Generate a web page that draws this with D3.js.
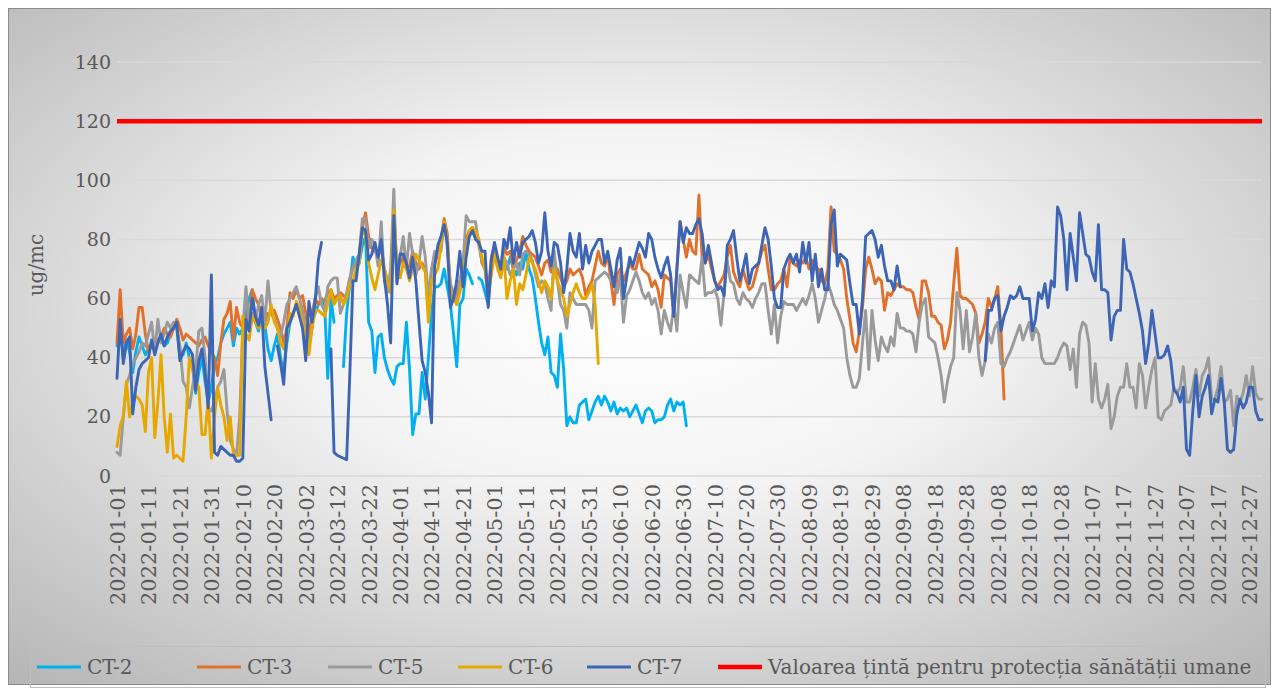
<!DOCTYPE html>
<html>
<head>
<meta charset="utf-8">
<script src="https://cdn.jsdelivr.net/npm/d3@7"></script>
<style>
  body { margin: 0; background: #ffffff; }
  svg { display: block; }
</style>
</head>
<body>
<svg id="chart" width="1279" height="693"></svg>
<script>
// Daily PM10 concentrations (ug/mc), one value per day from 2022-01-01; null = no measurement.
const startDate = "2022-01-01";
const endDate = "2022-12-31";

const ct2 = [
  44,50,40,46,42,35,42,47,44,41, 43,45,42,46,47,44,45,48,50,50,
  40,41,45,40,37,28,35,40,32,25, 30,38,40,45,48,50,52,44,50,48,
  50,55,60,63,52,49,55,51,43,39, 44,48,40,35,45,52,55,58,55,50,
  45,48,52,55,58,60,58,33,60,52, null,null,37,55,65,74,70,72,78,81,
  52,49,35,47,48,40,36,33,31,37, 38,38,52,36,14,21,21,35,26,40,
  55,64,64,65,70,64,58,48,37,58, 60,70,68,65,null,67,66,62,58,70,
  75,72,68,72,70,74,70,68,72,70, 76,70,67,60,52,45,41,47,35,34,
  30,48,36,17,20,18,18,24,25,26, 19,22,25,27,24,27,25,22,25,21,
  23,22,23,20,22,24,21,18,22,23, 22,18,19,19,20,24,26,22,25,24,
  25,17
];

const ct3 = [
  45,63,45,48,50,43,48,57,57,48, 42,44,43,46,47,50,48,47,50,53,
  50,46,48,47,46,45,44,46,47,44, 42,40,34,45,53,55,59,46,57,52,
  50,54,51,63,60,58,55,52,55,55, 56,53,50,45,50,62,60,63,60,61,
  55,47,55,60,58,60,59,62,63,60, 61,62,61,60,66,71,72,74,84,89,
  81,77,76,74,78,70,66,63,89,70, 72,74,70,71,76,72,70,72,70,56,
  70,72,75,80,87,82,62,60,62,66, 68,80,83,84,82,80,72,70,62,74,
  78,72,68,77,75,76,70,73,76,81, 78,76,75,74,71,68,72,73,69,71,
  70,67,64,66,70,68,69,70,67,61, 64,66,71,76,72,71,75,66,58,68,
  70,66,69,72,70,70,75,70,69,68, 64,66,63,57,68,67,66,54,70,86,
  80,74,80,76,75,95,74,72,75,70, 66,64,66,68,74,78,69,66,64,70,
  66,63,64,68,72,76,78,70,63,63, 65,66,70,64,74,72,71,73,72,74,
  70,73,70,70,66,65,70,91,76,75, 73,70,60,53,45,42,49,57,70,74,
  70,65,67,66,56,62,61,63,65,64, 64,63,63,62,57,53,66,66,62,54,
  54,52,51,43,46,52,65,77,61,60, 60,59,58,55,45,48,52,60,57,60,
  64,50,26
];

const ct5 = [
  8,7,20,31,34,38,40,42,45,44, 48,52,42,53,45,48,52,50,52,50,
  44,32,30,23,30,36,49,50,40,23, 22,25,30,32,36,22,12,9,7,20,
  50,64,51,55,52,58,61,52,66,55, 53,50,47,52,58,60,62,64,60,56,
  48,44,50,60,64,58,56,64,66,67, 67,55,58,62,67,70,73,75,87,87,
  77,80,78,71,86,66,62,70,97,66, 74,81,70,82,75,68,72,81,74,60,
  70,76,75,76,86,77,65,62,58,66, 72,88,86,86,86,78,73,70,60,70,
  76,72,68,74,72,68,70,72,68,75, 76,75,73,68,64,66,65,60,56,76,
  66,58,56,50,62,60,58,58,58,58, 56,50,66,67,68,69,68,66,66,62,
  68,52,61,63,66,69,66,62,60,62, 58,60,56,48,56,52,49,58,49,68,
  62,57,68,67,66,65,74,61,62,62, 63,60,51,62,73,66,65,60,58,62,
  60,59,57,60,62,65,65,56,48,58, 45,54,59,58,58,58,56,58,60,58,
  61,65,60,52,56,60,65,62,58,56, 53,50,40,34,30,30,33,45,56,36,
  56,46,39,47,44,42,47,44,55,50, 50,49,49,48,42,52,58,60,47,46,
  45,40,34,25,32,37,40,62,56,43, 56,42,47,55,40,34,39,48,45,50,
  52,38,37,40,42,45,48,51,46,49, 52,46,50,48,40,38,38,38,38,40,
  43,45,44,36,43,30,48,52,51,45, 25,38,26,23,26,31,16,20,27,30,
  30,38,30,30,23,38,34,23,30,36, 40,20,19,22,23,24,30,28,30,37,
  25,25,30,36,27,34,36,40,26,26, 30,37,25,26,29,17,27,25,28,34,
  27,37,28,26,26
];

const ct6 = [
  10,17,20,32,20,25,27,26,24,15, 35,40,13,25,41,20,8,21,6,7,
  6,5,20,40,36,32,30,14,14,26, 6,20,30,24,20,12,20,7,7,7,
  54,48,46,54,52,50,51,50,52,58, 52,50,45,43,48,55,54,59,57,52,
  48,41,50,56,56,55,54,58,63,58, 60,61,58,60,65,66,70,72,84,81,
  72,67,63,68,73,70,66,62,90,70, 67,72,70,66,70,75,73,71,69,52,
  66,68,70,78,86,80,61,60,58,62, 68,76,83,84,83,80,74,70,62,68,
  75,70,67,74,60,66,70,58,65,63, 68,74,72,70,66,62,66,64,60,70,
  66,63,60,54,58,62,65,62,60,60, 62,65,58,38
];

const ct7 = [
  33,53,38,45,47,21,30,36,38,39, 40,46,41,45,48,44,47,49,50,52,
  39,42,44,43,41,29,39,43,35,23, 68,8,7,10,9,8,7,7,5,5,
  6,53,49,60,54,51,57,37,28,19, null,44,38,31,50,52,55,58,54,50,
  39,59,52,59,73,79,null,null,43,8, 7,6.5,6,5.5,34,66,66,75,84,83,
  73,75,79,74,80,67,58,45,88,65, 75,75,72,67,74,66,52,39,35,28,
  18,71,78,81,85,79,57,60,66,76, 64,74,81,83,80,79,76,76,57,73,
  79,74,70,80,77,84,72,79,74,79, 80,81,83,79,72,76,89,76,71,79,
  78,72,62,70,82,76,74,82,70,78, 72,76,78,80,80,72,76,70,64,73,
  77,60,67,74,71,75,79,77,74,82, 80,74,70,67,71,74,68,54,70,86,
  79,84,82,82,85,87,82,72,78,72, 66,63,64,61,78,80,83,74,66,70,
  75,65,70,71,72,78,84,80,71,60, 57,57,70,73,75,72,75,69,79,72,
  79,66,75,64,70,63,63,85,90,71, 75,74,73,65,58,58,48,60,81,82,
  83,80,74,78,71,66,66,63,71,64, null,null,null,null,null,null,null,null,null,null,
  null,null,null,null,null,null,null,null,null,null, null,null,null,null,null,null,39,56,56,60,
  61,49,54,57,61,60,61,64,60,60, 60,49,53,62,60,65,57,66,64,91,
  88,80,63,82,74,66,89,82,75,74, 69,66,85,63,63,62,46,54,56,56,
  80,70,69,65,60,55,49,38,45,56, 48,40,40,41,44,39,29,28,25,30,
  9,7,22,34,20,27,30,34,21,26, 25,33,25,9,8,9,21,26,23,25,
  30,30,22,19,19
];

const seriesNames = ["CT-2", "CT-3", "CT-5", "CT-6", "CT-7"];
const seriesValues = [ct2, ct3, ct5, ct6, ct7];
const seriesColors = ["#00b0f0", "#e0702a", "#9a9a9a", "#e6a800", "#3d65b5"];

const limitValue = 120;
const limitLabel = "Valoarea țintă pentru protecția sănătății umane";
const limitColor = "#ff0000";

const yTicks = [0, 20, 40, 60, 80, 100, 120, 140];
const xTickStepDays = 10;
const yAxisTitle = "ug/mc";

// ---- layout ----
const W = 1279, H = 693;
const plot = { left: 117, right: 1262, top: 62, bottom: 476 };
const serif = "'DejaVu Serif', 'Liberation Serif', serif";
const textColor = "#595959";

const svg = d3.select("#chart");
const defs = svg.append("defs");

const bg = defs.append("radialGradient")
  .attr("id", "bgGrad")
  .attr("cx", "50%").attr("cy", "45%").attr("r", "75%");
bg.append("stop").attr("offset", "0%").attr("stop-color", "#ffffff");
bg.append("stop").attr("offset", "35%").attr("stop-color", "#f4f4f4");
bg.append("stop").attr("offset", "100%").attr("stop-color", "#b4b4b4");

svg.append("rect")
  .attr("x", 8.5).attr("y", 8.5)
  .attr("width", W - 17).attr("height", H - 17)
  .attr("fill", "url(#bgGrad)")
  .attr("stroke", "#8c8c8c").attr("stroke-width", 1);

const parse = d3.utcParse("%Y-%m-%d");
const t0 = parse(startDate);
const t1 = parse(endDate);
const dayDate = i => d3.utcDay.offset(t0, i);

const x = d3.scaleUtc().domain([t0, t1]).range([plot.left, plot.right]);
const y = d3.scaleLinear().domain([0, 140]).range([plot.bottom, plot.top]);

// horizontal gridlines
svg.append("g")
  .selectAll("line")
  .data(yTicks)
  .join("line")
  .attr("x1", plot.left).attr("x2", plot.right)
  .attr("y1", d => y(d)).attr("y2", d => y(d))
  .attr("stroke", "#d9d9d9").attr("stroke-width", 1.5);

// y axis labels
const yAxis = d3.axisLeft(y).tickValues(yTicks).tickSize(0).tickPadding(0);
const gy = svg.append("g").attr("transform", `translate(${plot.left - 6},0)`).call(yAxis);
gy.select(".domain").remove();
gy.selectAll("text")
  .attr("font-family", serif).attr("font-size", 19).attr("fill", textColor);

// x axis labels (every 10 days, vertical)
const xTicks = d3.range(0, 365, xTickStepDays).map(dayDate);
const fmt = d3.utcFormat("%Y-%m-%d");
const xAxis = d3.axisBottom(x).tickValues(xTicks).tickFormat(fmt).tickSize(0).tickPadding(0);
const gx = svg.append("g").attr("transform", `translate(0,${plot.bottom})`).call(xAxis);
gx.select(".domain").remove();
gx.selectAll("text")
  .attr("font-family", serif).attr("font-size", 21).attr("fill", textColor)
  .attr("text-anchor", "end")
  .attr("transform", "rotate(-90)")
  .attr("x", -8).attr("y", 0).attr("dy", "0.35em");

// y axis title
svg.append("text")
  .attr("transform", `translate(43,265) rotate(-90)`)
  .attr("text-anchor", "middle")
  .attr("font-family", serif).attr("font-size", 20).attr("fill", textColor)
  .text(yAxisTitle);

// series lines
const line = d3.line()
  .defined(d => d.v != null)
  .x(d => x(d.date))
  .y(d => y(d.v));

const gLines = svg.append("g").attr("fill", "none").attr("stroke-linejoin", "round").attr("stroke-linecap", "round");
seriesValues.forEach((vals, k) => {
  const pts = vals.map((v, i) => ({ date: dayDate(i), v }));
  gLines.append("path")
    .datum(pts)
    .attr("stroke", seriesColors[k])
    .attr("stroke-width", 2.9)
    .attr("d", line);
});

// target value line
gLines.append("path")
  .datum([{ date: t0, v: limitValue }, { date: t1, v: limitValue }])
  .attr("stroke", limitColor)
  .attr("stroke-width", 4.5)
  .attr("stroke-linecap", "butt")
  .attr("d", line);

// legend
const legendItems = seriesNames.map((n, k) => ({ name: n, color: seriesColors[k], w: 2.9 }))
  .concat([{ name: limitLabel, color: limitColor, w: 4.5 }]);
const legendX = [37, 197, 328, 458, 587, 718];
const legendY = 667;

svg.append("rect")
  .attr("x", 30.5).attr("y", 646.5).attr("width", 1235).attr("height", 41)
  .attr("fill", "none").attr("stroke", "#bfbfbf").attr("stroke-width", 1);

const lg = svg.append("g");
legendItems.forEach((it, k) => {
  const gx0 = legendX[k];
  lg.append("line")
    .attr("x1", gx0).attr("x2", gx0 + 44)
    .attr("y1", legendY).attr("y2", legendY)
    .attr("stroke", it.color).attr("stroke-width", it.w);
  lg.append("text")
    .attr("x", gx0 + 50).attr("y", legendY).attr("dy", "0.35em")
    .attr("font-family", serif).attr("font-size", 20).attr("fill", textColor)
    .text(it.name);
});
</script>
</body>
</html>
